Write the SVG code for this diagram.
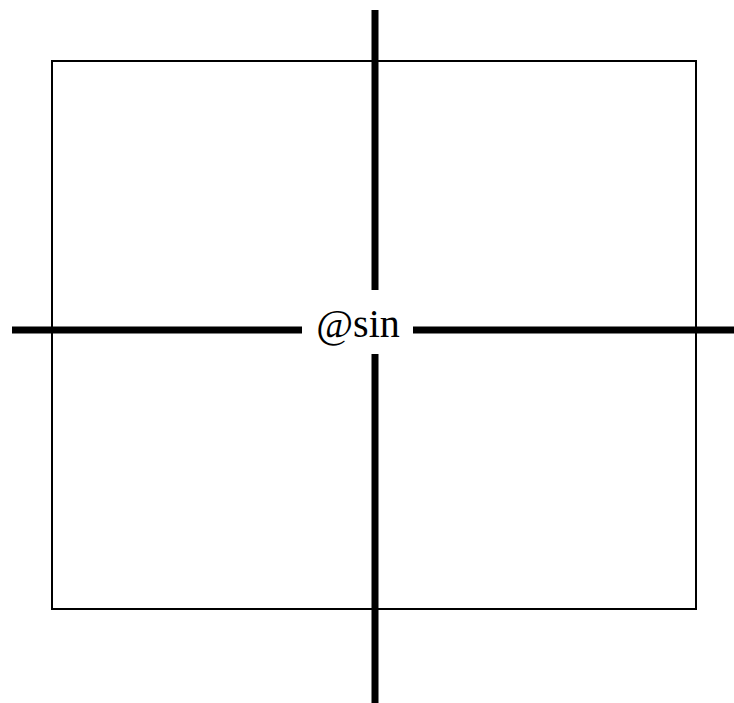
<svg xmlns="http://www.w3.org/2000/svg" width="734" height="703" viewBox="0 0 734 703">
<style>
.box{fill:none;stroke:#000;stroke-width:2}
.axis{stroke:#000;stroke-width:7;fill:none}
.lbl{font-family:"Liberation Serif",serif;font-size:40px;fill:#000}
</style>
<rect width="734" height="703" fill="#fff"/>
<g id="frame"><rect class="box" x="52" y="61" width="644" height="548"/></g>
<g id="connectors">
<line class="axis" x1="12" y1="330" x2="302" y2="330"/>
<line class="axis" x1="413" y1="330" x2="734" y2="330"/>
<line class="axis" x1="375" y1="10" x2="375" y2="290"/>
<line class="axis" x1="375" y1="354" x2="375" y2="703"/>
</g>
<g id="center"><text class="lbl" x="358" y="337" text-anchor="middle">@sin</text></g>
</svg>
